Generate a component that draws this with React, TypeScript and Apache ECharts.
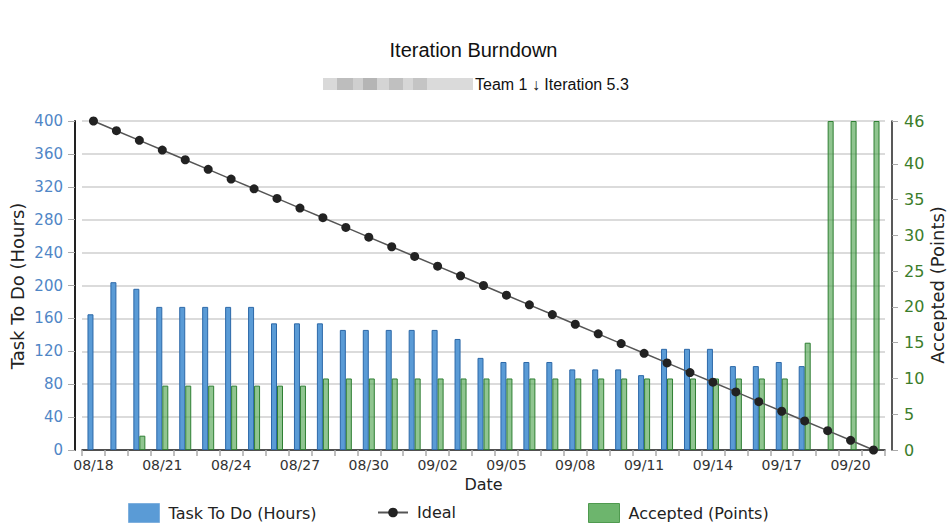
import React, { useEffect, useRef } from 'react';
import * as echarts from 'echarts';

const dates = [
  '08/18', '08/19', '08/20', '08/21', '08/22', '08/23', '08/24', '08/25', '08/26', '08/27',
  '08/28', '08/29', '08/30', '08/31', '09/01', '09/02', '09/03', '09/04', '09/05', '09/06',
  '09/07', '09/08', '09/09', '09/10', '09/11', '09/12', '09/13', '09/14', '09/15', '09/16',
  '09/17', '09/18', '09/19', '09/20', '09/21',
];

const taskToDo = [
  165, 204, 196, 174, 174, 174, 174, 174, 154, 154,
  154, 146, 146, 146, 146, 146, 135, 112, 107, 107,
  107, 98, 98, 98, 91, 123, 123, 123, 102, 102,
  107, 102, null, null, null,
];

const ideal = [
  400, 388.2, 376.5, 364.7, 352.9, 341.2, 329.4, 317.6, 305.9, 294.1,
  282.4, 270.6, 258.8, 247.1, 235.3, 223.5, 211.8, 200, 188.2, 176.5,
  164.7, 152.9, 141.2, 129.4, 117.6, 105.9, 94.1, 82.4, 70.6, 58.8,
  47.1, 35.3, 23.5, 11.8, 0,
];

const accepted = [
  null, null, 2, 9, 9, 9, 9, 9, 9, 9,
  10, 10, 10, 10, 10, 10, 10, 10, 10, 10,
  10, 10, 10, 10, 10, 10, 10, 10, 10, 10,
  10, 15, 46, 46, 46,
];

const leftTicks = { min: 0, max: 400, interval: 40 };
const rightTickValues = [0, 5, 10, 15, 20, 25, 30, 35, 40, 46];

const FONT = 'DejaVu Sans, Verdana, sans-serif';
const TITLE_FONT = 'Liberation Sans, Arial, sans-serif';

export default function App() {
  const ref = useRef<HTMLDivElement>(null);

  useEffect(() => {
    if (!ref.current) return;
    const chart = echarts.init(ref.current, null, { renderer: 'svg' });

    const blurBlocks = [
      { x: 323, w: 14, c: '#d9d9d9' },
      { x: 337, w: 16, c: '#bdbdbd' },
      { x: 353, w: 10, c: '#cfcfcf' },
      { x: 363, w: 14, c: '#b5b5b5' },
      { x: 377, w: 12, c: '#d4d4d4' },
      { x: 389, w: 14, c: '#c0c0c0' },
      { x: 403, w: 10, c: '#d6d6d6' },
      { x: 413, w: 14, c: '#c4c4c4' },
      { x: 427, w: 46, c: '#dadada' },
    ];

    const legendText = { fontFamily: FONT, fontSize: 16, color: '#222', padding: [0, 0, 0, 4] };

    chart.setOption({
      animation: false,
      backgroundColor: '#ffffff',
      title: {
        text: 'Iteration Burndown',
        left: 'center',
        top: 35,
        textStyle: { fontFamily: TITLE_FONT, fontSize: 20, fontWeight: 'normal', color: '#111' },
      },
      graphic: [
        ...blurBlocks.map((b) => ({
          type: 'rect',
          shape: { x: b.x, y: 78, width: b.w, height: 12 },
          style: { fill: b.c },
          silent: true,
        })),
        {
          type: 'text',
          x: 475,
          y: 84,
          style: {
            text: 'Team 1 ↓ Iteration 5.3',
            font: `16px ${TITLE_FONT}`,
            fill: '#111',
            verticalAlign: 'middle',
          },
        },
        {
          type: 'text',
          x: 17,
          y: 286,
          rotation: Math.PI / 2,
          style: {
            text: 'Task To Do (Hours)',
            font: `18px ${FONT}`,
            fill: '#222',
            align: 'center',
            verticalAlign: 'middle',
          },
        },
        {
          type: 'text',
          x: 937,
          y: 285,
          rotation: Math.PI / 2,
          style: {
            text: 'Accepted (Points)',
            font: `18px ${FONT}`,
            fill: '#222',
            align: 'center',
            verticalAlign: 'middle',
          },
        },
      ],
      legend: [
        {
          data: ['Task To Do (Hours)'],
          left: 128,
          top: 503,
          padding: 0,
          itemWidth: 31,
          itemHeight: 19,
          icon: 'rect',
          itemStyle: { borderColor: '#7fb0de', borderWidth: 1 },
          textStyle: legendText,
        },
        {
          data: ['Ideal'],
          left: 377,
          top: 503,
          padding: 0,
          itemWidth: 30,
          itemHeight: 12,
          textStyle: { ...legendText, lineHeight: 19 },
        },
        {
          data: ['Accepted (Points)'],
          left: 588,
          top: 503,
          padding: 0,
          itemWidth: 31,
          itemHeight: 19,
          icon: 'rect',
          itemStyle: { color: '#6db56d', borderColor: '#4f9a4f', borderWidth: 1 },
          textStyle: legendText,
        },
      ],
      grid: { left: 82, right: 62, top: 121, bottom: 77, containLabel: false },
      xAxis: {
        type: 'category',
        data: dates,
        boundaryGap: true,
        name: 'Date',
        nameLocation: 'middle',
        nameGap: 26,
        nameTextStyle: { fontFamily: FONT, fontSize: 16, color: '#222' },
        axisLine: { lineStyle: { color: '#222', width: 1.5 } },
        axisTick: { show: true, interval: 0, length: 6, lineStyle: { color: '#aaa', width: 1.5 } },
        axisLabel: { interval: 2, fontFamily: FONT, fontSize: 14, color: '#333', margin: 8 },
        splitLine: { show: false },
      },
      yAxis: [
        {
          type: 'value',
          position: 'left',
          offset: 7,
          min: leftTicks.min,
          max: leftTicks.max,
          interval: leftTicks.interval,
          axisLine: { show: true, lineStyle: { color: '#222', width: 2 } },
          axisTick: { show: true, length: 7, lineStyle: { color: '#aaa' } },
          axisLabel: { fontFamily: FONT, fontSize: 15, color: '#4f86c6', margin: 12 },
          splitLine: { show: true, lineStyle: { color: '#cfcfcf', width: 1.5 } },
        },
        {
          type: 'value',
          position: 'right',
          offset: 7,
          min: 0,
          max: 46,
          axisLine: { show: true, lineStyle: { color: '#222', width: 1.5 } },
          axisTick: { show: true, length: 6, customValues: rightTickValues, lineStyle: { color: '#aaa' } },
          axisLabel: { customValues: rightTickValues, fontFamily: FONT, fontSize: 16, color: '#3b7d2b', margin: 12 },
          splitLine: { show: false },
        },
      ],
      series: [
        {
          name: 'Task To Do (Hours)',
          type: 'bar',
          yAxisIndex: 0,
          data: taskToDo,
          barWidth: 6,
          barGap: '0%',
          itemStyle: { color: '#5a9bd6', borderColor: '#2c68a8', borderWidth: 1 },
          z: 2,
        },
        {
          name: 'Accepted (Points)',
          type: 'bar',
          yAxisIndex: 1,
          data: accepted,
          barWidth: 6,
          barGap: '0%',
          itemStyle: { color: 'rgba(84,166,84,0.65)', borderColor: '#2f7f33', borderWidth: 1 },
          z: 2,
        },
        {
          name: 'Ideal',
          type: 'line',
          yAxisIndex: 0,
          data: ideal,
          symbol: 'circle',
          symbolSize: 9,
          lineStyle: { color: '#555', width: 1.5 },
          itemStyle: { color: '#222' },
          z: 5,
        },
      ],
    });

    return () => chart.dispose();
  }, []);

  return (
    <div
      ref={ref}
      style={{ position: 'fixed', left: 0, top: 0, width: 947, height: 527 }}
    />
  );
}
